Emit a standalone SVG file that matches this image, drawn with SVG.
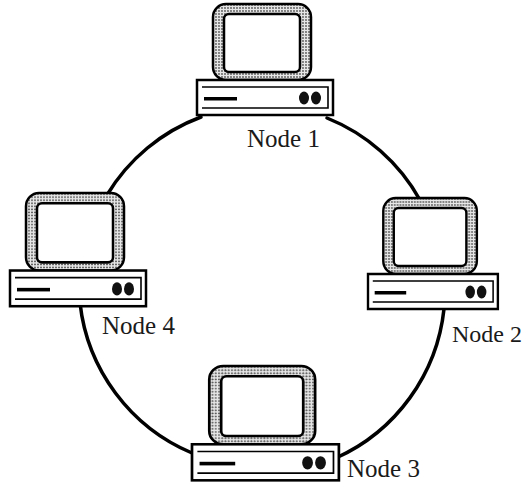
<svg xmlns="http://www.w3.org/2000/svg" xmlns:xlink="http://www.w3.org/1999/xlink" width="526" height="484" viewBox="0 0 526 484">
  <defs>
    <style>
      .wire { fill: none; stroke: #000; stroke-width: 3.5; stroke-linecap: round; }
      .label { font-family: "Liberation Serif", "Times New Roman", serif; font-size: 25px; fill: #1a1a1a; }
      .outline { stroke: #000; stroke-width: 2.5; }
      .thin { fill: none; stroke: #000; stroke-width: 1.6; }
    </style>
    <pattern id="stip" width="3" height="3" patternUnits="userSpaceOnUse">
      <rect width="3" height="3" fill="#e6e6e6"/>
      <circle cx="1" cy="1" r="0.9" fill="#555"/>
    </pattern>
    <g id="computer">
      <!-- monitor -->
      <rect x="16" y="0" width="98" height="76" rx="13" ry="13" fill="url(#stip)" class="outline"/>
      <rect x="27" y="10" width="76" height="58" rx="5" ry="5" fill="#fff" class="outline"/>
      <!-- base -->
      <rect x="0" y="76" width="136" height="35" fill="#fff" class="outline"/>
      <path d="M5,83 H131 V104 H5" class="thin"/>
      <rect x="7" y="93" width="33" height="3.5" fill="#000"/>
      <ellipse cx="107" cy="94" rx="5" ry="6.5" fill="#111"/>
      <ellipse cx="119" cy="94" rx="5" ry="6.5" fill="#111"/>
    </g>
  </defs>

  <rect width="526" height="484" fill="#fff"/>

  <g id="connectors">
    <path class="wire" d="M201,117 A185,185 0 0,0 107,195"/>
    <path class="wire" d="M327,118 A185,185 0 0,1 420,200"/>
    <path class="wire" d="M80,303 A185,185 0 0,0 192,453"/>
    <path class="wire" d="M336,458 A185,185 0 0,0 444,309"/>
  </g>

  <g id="node1">
    <use xlink:href="#computer" transform="translate(197,4)"/>
    <text class="label" x="247" y="147">Node 1</text>
  </g>
  <g id="node2">
    <use xlink:href="#computer" transform="translate(368,198) scale(0.955,1)"/>
    <text class="label" x="452" y="342" style="font-size:24px">Node 2</text>
  </g>
  <g id="node3">
    <use xlink:href="#computer" transform="translate(192,366) scale(1.08,1.03)"/>
    <text class="label" x="347" y="477">Node 3</text>
  </g>
  <g id="node4">
    <use xlink:href="#computer" transform="translate(10,193) scale(1,1.02)"/>
    <text class="label" x="102" y="334">Node 4</text>
  </g>
</svg>
